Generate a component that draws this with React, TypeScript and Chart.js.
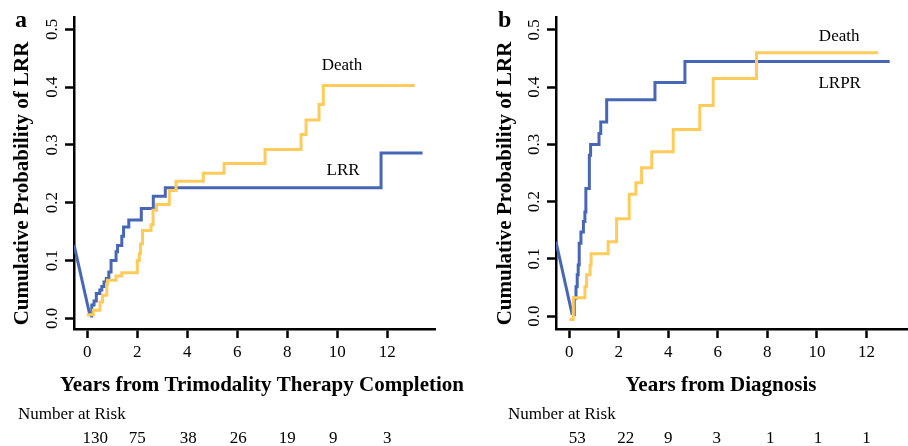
import React, { useEffect, useRef } from "react";
import { Chart, registerables } from "chart.js";

Chart.register(...registerables);

const SERIF = "'Liberation Serif', 'Times New Roman', serif";
const BLUE = "#4767B6";
const YELLOW = "#FFCC5C";

const xTickValues = [0, 2, 4, 6, 8, 10, 12];
const yTickValues = [0, 0.1, 0.2, 0.3, 0.4, 0.5];
const yTickLabels = ["0.0", "0.1", "0.2", "0.3", "0.4", "0.5"];

// ---- Panel a: Years from Trimodality Therapy Completion ----
const aLrrLeadTimes = [-0.53, 0.11];
const aLrrLeadValues = [0.127, 0.004];
const aLrrTimes = [0.11, 0.18, 0.27, 0.36, 0.5, 0.58, 0.67, 0.76, 0.86, 0.95, 1.15, 1.21, 1.38, 1.45, 1.66, 2.16, 2.64, 3.12, 11.75, 13.41];
const aLrrValues = [0.004, 0.023, 0.03, 0.043, 0.049, 0.055, 0.063, 0.069, 0.08, 0.1, 0.115, 0.126, 0.142, 0.158, 0.17, 0.19, 0.211, 0.226, 0.286, 0.286];
const aDeathTimes = [-0.02, 0.24, 0.51, 0.61, 0.78, 0.81, 1.15, 1.38, 2.0, 2.08, 2.13, 2.21, 2.55, 2.63, 2.77, 3.28, 3.55, 4.64, 5.47, 7.11, 8.55, 8.75, 9.27, 9.44, 13.1];
const aDeathValues = [0.006, 0.014, 0.028, 0.04, 0.06, 0.066, 0.073, 0.079, 0.1, 0.112, 0.129, 0.152, 0.162, 0.187, 0.197, 0.221, 0.237, 0.251, 0.268, 0.292, 0.318, 0.343, 0.37, 0.403, 0.403];
const aRiskCounts = [130, 75, 38, 26, 19, 9, 3];

// ---- Panel b: Years from Diagnosis ----
const bLrprLeadTimes = [-0.54, 0.12];
const bLrprLeadValues = [0.13, 0.002];
const bLrprTimes = [0.12, 0.2, 0.27, 0.32, 0.36, 0.4, 0.47, 0.57, 0.63, 0.67, 0.81, 0.86, 1.2, 1.27, 1.51, 3.46, 4.67, 12.94];
const bLrprValues = [0.002, 0.031, 0.051, 0.072, 0.089, 0.127, 0.147, 0.165, 0.182, 0.223, 0.281, 0.3, 0.319, 0.339, 0.378, 0.408, 0.445, 0.445];
const bDeathTimes = [0.0, 0.16, 0.63, 0.7, 0.84, 0.88, 1.57, 1.91, 2.42, 2.69, 2.92, 3.33, 4.2, 5.27, 5.81, 7.56, 12.47];
const bDeathValues = [-0.006, 0.032, 0.051, 0.072, 0.089, 0.109, 0.13, 0.17, 0.213, 0.233, 0.259, 0.287, 0.326, 0.368, 0.415, 0.46, 0.46];
const bRiskCounts = [53, 22, 9, 3, 1, 1, 1];

type Label = { text: string; x: number; y: number };
type Panel = {
  letter: string;
  xTitle: string;
  yTitle: string;
  left: number;
  width: number;
  axisLeft: number;
  padRight: number;
  xMin: number;
  xMax: number;
  yMin: number;
  yMax: number;
  lead: [number[], number[]];
  blue: [number[], number[]];
  yellow: [number[], number[]];
  labels: Label[];
  risk: number[];
  riskShift: number[];
  letterX: number;
  yTitleX: number;
  xTitleX: number;
  riskTitleX: number;
};

const panels: Panel[] = [
  {
    letter: "a",
    xTitle: "Years from Trimodality Therapy Completion",
    yTitle: "Cumulative Probability of LRR",
    left: 0,
    width: 470,
    axisLeft: 74,
    padRight: 35,
    xMin: -0.532,
    xMax: 13.908,
    yMin: -0.0185,
    yMax: 0.5213,
    lead: [aLrrLeadTimes, aLrrLeadValues],
    blue: [aLrrTimes, aLrrValues],
    yellow: [aDeathTimes, aDeathValues],
    labels: [
      { text: "Death", x: 10.19, y: 0.4296 },
      { text: "LRR", x: 10.23, y: 0.248 },
    ],
    risk: aRiskCounts,
    riskShift: [8, 0, 1, 1, 0, -4, 0],
    letterX: 15,
    yTitleX: 27.5,
    xTitleX: 262,
    riskTitleX: 18,
  },
  {
    letter: "b",
    xTitle: "Years from Diagnosis",
    yTitle: "Cumulative Probability of LRR",
    left: 470,
    width: 438,
    axisLeft: 86,
    padRight: 0,
    xMin: -0.537,
    xMax: 13.68,
    yMin: -0.0227,
    yMax: 0.5227,
    lead: [bLrprLeadTimes, bLrprLeadValues],
    blue: [bLrprTimes, bLrprValues],
    yellow: [bDeathTimes, bDeathValues],
    labels: [
      { text: "Death", x: 10.9, y: 0.48 },
      { text: "LRPR", x: 10.92, y: 0.3986 },
    ],
    risk: bRiskCounts,
    riskShift: [8, 7, 0, -1, 3, 1, 0],
    letterX: 28,
    yTitleX: 40.6,
    xTitleX: 251,
    riskTitleX: 38,
  },
];

const toPoints = (xs: number[], ys: number[]) => xs.map((x, i) => ({ x, y: ys[i] }));

function makeTextPlugin(p: Panel) {
  return {
    id: "panelTexts" + p.letter,
    afterDraw(chart: any) {
      const ctx = chart.ctx as CanvasRenderingContext2D;
      const xs = chart.scales.x;
      const ys = chart.scales.y;
      const area = chart.chartArea;
      ctx.save();
      ctx.fillStyle = "#000";
      ctx.textBaseline = "alphabetic";

      ctx.font = `bold 24px ${SERIF}`;
      ctx.textAlign = "left";
      ctx.fillText(p.letter, p.letterX, 26.5);

      ctx.font = `17px ${SERIF}`;
      ctx.textAlign = "center";
      xTickValues.forEach((v) => ctx.fillText(String(v), xs.getPixelForValue(v), area.bottom + 28));

      yTickValues.forEach((v, i) => {
        ctx.save();
        ctx.translate(area.left - 17.5, ys.getPixelForValue(v));
        ctx.rotate(-Math.PI / 2);
        ctx.textAlign = "center";
        ctx.fillText(yTickLabels[i], 0, 0);
        ctx.restore();
      });

      ctx.save();
      ctx.font = `bold 21px ${SERIF}`;
      ctx.translate(p.yTitleX, 183.5);
      ctx.rotate(-Math.PI / 2);
      ctx.textAlign = "center";
      ctx.fillText(p.yTitle, 0, 0);
      ctx.restore();

      ctx.font = `bold 21px ${SERIF}`;
      ctx.textAlign = "center";
      ctx.fillText(p.xTitle, p.xTitleX, 391);

      ctx.font = `17px ${SERIF}`;
      p.labels.forEach((l) => ctx.fillText(l.text, xs.getPixelForValue(l.x), ys.getPixelForValue(l.y)));

      ctx.textAlign = "left";
      ctx.fillText("Number at Risk", p.riskTitleX, 419);
      ctx.textAlign = "center";
      p.risk.forEach((n, i) =>
        ctx.fillText(String(n), xs.getPixelForValue(xTickValues[i]) + p.riskShift[i], 443)
      );
      ctx.restore();
    },
  };
}

function PanelChart({ p }: { p: Panel }) {
  const ref = useRef<HTMLCanvasElement | null>(null);
  useEffect(() => {
    if (!ref.current) return;
    const axisCommon = {
      border: { display: true, color: "#000", width: 2.5 },
      grid: {
        display: true,
        drawOnChartArea: false,
        drawTicks: true,
        tickLength: 9,
        tickColor: "#000",
        tickWidth: 2.5,
        color: "#000",
      },
      ticks: { display: false },
    };
    const chart = new Chart(ref.current, {
      type: "line",
      data: {
        datasets: [
          {
            data: toPoints(p.yellow[0], p.yellow[1]),
            borderColor: YELLOW,
            borderWidth: 3,
            pointRadius: 0,
            stepped: "before",
            fill: false,
          },
          {
            data: toPoints(p.lead[0], p.lead[1]),
            borderColor: BLUE,
            borderWidth: 3,
            pointRadius: 0,
            stepped: false,
            tension: 0,
            fill: false,
          },
          {
            data: toPoints(p.blue[0], p.blue[1]),
            borderColor: BLUE,
            borderWidth: 3,
            pointRadius: 0,
            stepped: "before",
            fill: false,
          },
        ],
      },
      options: {
        animation: false,
        responsive: false,
        devicePixelRatio: 1,
        parsing: false as any,
        layout: { padding: { left: 0, right: p.padRight, top: 17, bottom: 0 } },
        plugins: { legend: { display: false }, tooltip: { enabled: false } },
        scales: {
          x: {
            type: "linear",
            min: p.xMin,
            max: p.xMax,
            ...axisCommon,
            afterBuildTicks: (s: any) => {
              s.ticks = xTickValues.map((v) => ({ value: v }));
            },
            afterFit: (s: any) => {
              s.height = 446 - 329;
            },
          },
          y: {
            type: "linear",
            min: p.yMin,
            max: p.yMax,
            ...axisCommon,
            afterBuildTicks: (s: any) => {
              s.ticks = yTickValues.map((v) => ({ value: v }));
            },
            afterFit: (s: any) => {
              s.width = p.axisLeft;
            },
          },
        },
      } as any,
      plugins: [makeTextPlugin(p)],
    });
    return () => chart.destroy();
  }, [p]);
  return (
    <canvas
      ref={ref}
      width={p.width}
      height={446}
      style={{ position: "absolute", left: p.left, top: 0, width: p.width, height: 446 }}
    />
  );
}

export default function App() {
  return (
    <div style={{ position: "absolute", left: 0, top: 0, width: 908, height: 446, overflow: "hidden", background: "#fff" }}>
      {panels.map((p) => (
        <PanelChart key={p.letter} p={p} />
      ))}
    </div>
  );
}
